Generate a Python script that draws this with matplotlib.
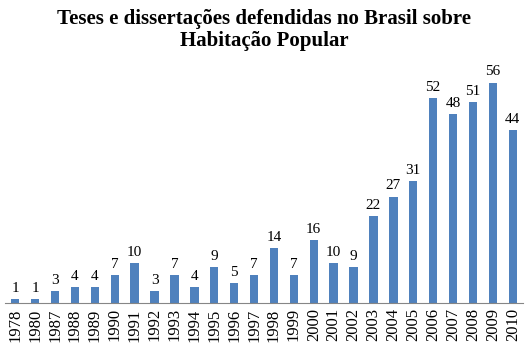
import matplotlib
matplotlib.use("Agg")
import matplotlib.pyplot as plt

anos = ["1978", "1980", "1987", "1988", "1989", "1990", "1991", "1992", "1993",
        "1994", "1995", "1996", "1997", "1998", "1999", "2000", "2001", "2002",
        "2003", "2004", "2005", "2006", "2007", "2008", "2009", "2010"]
trabalhos = [1, 1, 3, 4, 4, 7, 10, 3, 7, 4, 9, 5, 7, 14, 7, 16, 10, 9,
             22, 27, 31, 52, 48, 51, 56, 44]

plt.rcParams['font.family'] = ['Liberation Serif', 'DejaVu Serif']

fig = plt.figure(figsize=(5.28, 3.52), dpi=100)
ax = fig.add_axes([0.01, 0.14, 0.98, 0.67])

x = range(len(anos))
barras = ax.bar(x, trabalhos, width=0.42, color='#4F81BD')
ax.bar_label(barras, padding=3, fontsize=11)

ax.set_xlim(-0.5, len(anos) - 0.5)
ax.set_ylim(0, 60)
ax.set_xticks(list(x))
ax.set_xticklabels(anos, rotation=90, fontsize=12)
ax.tick_params(axis='x', length=0, pad=4)
ax.set_yticks([])
for lado in ['top', 'right', 'left']:
    ax.spines[lado].set_visible(False)
ax.spines['bottom'].set_color('#868686')

fig.suptitle("Teses e dissertações defendidas no Brasil sobre\nHabitação Popular",
             fontsize=15, fontweight='bold', y=0.975, linespacing=1.15)

fig.savefig("out.png", dpi=100)
